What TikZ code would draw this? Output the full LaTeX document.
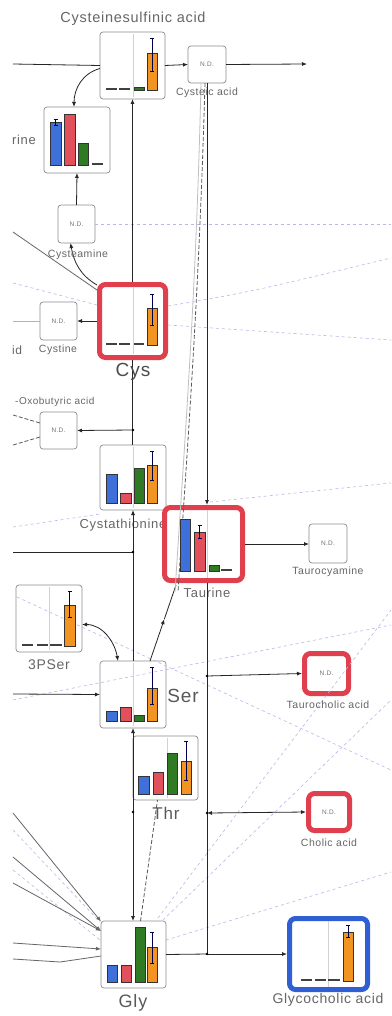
\documentclass[tikz,border=0pt]{standalone}
\usepackage{fontspec}
\setmainfont[LetterSpace=5]{Liberation Sans}
\usetikzlibrary{arrows.meta,calc}
\definecolor{cb}{HTML}{3F6FD9}
\definecolor{cr}{HTML}{E2515B}
\definecolor{cg}{HTML}{2F7A22}
\definecolor{co}{HTML}{F29422}
\definecolor{bred}{HTML}{E0404E}
\definecolor{bblue}{HTML}{2F5FD2}
\definecolor{fade}{HTML}{B8B8E8}
\newcommand{\mybar}[5]{\filldraw[fill=#5,draw=black!80,line width=0.5pt] (#1,#4) rectangle (#2,#3);}
\newcommand{\myflat}[3]{\fill[black!75] (#1,#3-1.8) rectangle (#2,#3);}
\newcommand{\myerr}[3]{\draw[black!70!blue,line width=0.6pt] (#1,#2)--(#1,#3) (#1-2,#2)--(#1+2,#2) (#1-2,#3)--(#1+2,#3);}
\newcommand{\fs}[1]{\fontsize{#1}{#1}\selectfont}
\begin{document}
\begin{tikzpicture}[x=1pt,y=-1pt,
  box/.style={draw=black!45,fill=white,rounded corners=3pt,line width=0.7pt,inner sep=0pt,outer sep=0pt},
  ndbox/.style={box,font=\fs{6.5},text=black!55},
  redbox/.style={draw=bred,fill=white,line width=5pt,rounded corners=6pt,inner sep=0pt,outer sep=2.5pt,font=\fs{6.5},text=black!55},
  conn/.style={draw=black!85,line width=0.8pt},
  arr/.style={conn,-{Latex[length=5pt,width=4pt]}},
  darr/.style={conn,{Latex[length=5pt,width=4pt]}-{Latex[length=5pt,width=4pt]}},
  gconn/.style={draw=black!60,line width=0.8pt},
  garr/.style={gconn,-{Latex[length=5pt,width=4pt]}},
  lconn/.style={draw=black!30,line width=0.8pt},
  dconn/.style={draw=black!65,line width=0.8pt,dash pattern=on 4pt off 2pt},
  fdash/.style={draw=fade,line width=0.6pt,dash pattern=on 3pt off 3pt},
  dot/.style={circle,fill=black,inner sep=0pt,minimum size=2.6pt},
  lab/.style={text=black!60,inner sep=0pt},
  divl/.style={draw=black!18,line width=0.5pt}]
\fill[white] (0,0) rectangle (391,1016);
\useasboundingbox (0,0) rectangle (391,1016);

% ---------- nodes ----------
\node[box,minimum width=65pt,minimum height=67pt] (csa) at (132.5,65.5) {};
\node[ndbox,minimum width=38pt,minimum height=37pt] (cya) at (207,64.5) {N.D.};
\node[box,minimum width=66pt,minimum height=66pt] (hyp) at (77,140) {};
\node[ndbox,minimum width=37pt,minimum height=38pt] (cym) at (76.5,224) {N.D.};
\node[redbox,minimum width=66pt,minimum height=73pt] (cys) at (132.5,321) {};
\node[ndbox,minimum width=37pt,minimum height=38pt] (cyn) at (58.5,321) {N.D.};
\node[ndbox,minimum width=37pt,minimum height=37pt] (oxo) at (58.5,430.5) {N.D.};
\node[box,minimum width=66pt,minimum height=65pt] (cth) at (133,477.5) {};
\node[lab,font=\fs{13}] (cthL) at (123,525) {Cystathionine};
\node[lab,font=\fs{13}] (tauL) at (207,593) {Taurine};
\node[redbox,minimum width=78pt,minimum height=73pt] (tau) at (203.5,544) {};
\node[ndbox,minimum width=38pt,minimum height=39pt] (tcy) at (328,543.5) {N.D.};
\node[box,minimum width=66pt,minimum height=67pt] (pser) at (49,618.5) {};
\node[box,minimum width=66pt,minimum height=67pt] (ser) at (133,694.5) {};
\node[box,minimum width=65pt,minimum height=64pt] (thr) at (165.5,768) {};
\node[box,minimum width=65pt,minimum height=67pt] (gly) at (133.5,954.5) {};
\node[redbox,minimum width=44pt,minimum height=40pt] (tca) at (326.5,673.5) {N.D.};
\node[redbox,minimum width=41pt,minimum height=37pt] (cha) at (329,812) {N.D.};
\node[redbox,draw=bblue,minimum width=78pt,minimum height=71pt] (gca) at (328.5,954) {};

% ---------- coordinates ----------
\coordinate (L1) at (13,64);
\coordinate (R1) at (307,64);
\coordinate (L2) at (13,232);
\coordinate (L3) at (13,321);
\coordinate (j1) at (133,430);
\coordinate (L4a) at (13,415);
\coordinate (L4b) at (13,445);
\coordinate (L5) at (13,552);
\coordinate (j5) at (133,552);
\coordinate (L6) at (13,694);
\coordinate (j6) at (133,812);
\coordinate (j2) at (207,676);
\coordinate (j3) at (207,813);
\coordinate (j4) at (207,954);
\coordinate (tauB) at (176,585);
\coordinate (serT) at (150,661);
\coordinate (sm) at ($(serT)!0.55!(tauB)$);
\coordinate (G1) at (13,813);
\coordinate (G2) at (13,857);
\coordinate (G3) at (13,883);
\coordinate (G4) at (13,943);
\coordinate (G5) at (13,959);
\coordinate (G5m) at (60,962);

% ---------- faint dashed lines ----------
\draw[fdash] (cym.east) -- (391,224);
\draw[fdash] (13,283) -- (97,305);
\draw[fdash] (168,306) .. controls (250,292) .. (391,258);
\draw[fdash] (168,325) -- (391,340);
\draw[fdash] (210,502) -- (391,483);
\draw[fdash] (13,527) -- (100,514);
\draw[fdash] (17,597) -- (391,770);
\draw[fdash] (13,700) -- (391,625);
\draw[fdash] (158,918) -- (391,610);
\draw[fdash] (163,920) -- (391,700);
\draw[fdash] (166,940) -- (391,872);
\draw[fdash] (13,830) -- (100,922);
\draw[fdash] (13,870) -- (100,940);

% ---------- connectors ----------
\draw[conn] (L1) -- (csa.west);
\draw[arr] (csa.east) -- (cya.west);
\draw[arr] (cya.east) -- (R1);
\draw[arr] ([yshift=-3pt]csa.west) to[out=195,in=90] ([xshift=-3pt]hyp.north);
\draw[arr] (cym.north) -- (hyp.south);
\draw[gconn] (L2) -- ([yshift=-8pt]cys.north west);
\draw[arr] ([yshift=-3pt]cys.north west) to[out=150,in=-80] ([xshift=-6pt]cym.south);
\draw[arr] (cys.west) -- (cyn.east);
\draw[lconn] (L3) -- (cyn.west);
\draw[arr] (cys.north) -- (csa.south);
\draw[conn] (cys.south) -- (cys.south |- cth.north);
\draw[arr] (j1) -- (oxo.east);
\draw[dconn] (L4a) -- ([yshift=7.5pt]oxo.west);
\draw[dconn] (L4b) -- ([yshift=-6.5pt]oxo.west);
\draw[arr] (ser.north) -- (ser.north |- cth.south);
\draw[conn] (L5) -- (j5);
\draw[arr] (L6) -- (ser.west);
\draw[darr] (ser.south) -- (ser.south |- gly.north);
\draw[arr] (cya.south) -- (cya.south |- tau.north);
\draw[conn] (j2 |- tau.south) -- (j4);
\draw[arr] (j2) -- (tca.west);
\draw[darr] (j3) -- (cha.west);
\draw[conn] (gly.east) -- (j4);
\draw[arr] (j4) -- (gca.west);
\draw[arr] (tau.east) -- (tau.east -| tcy.west);
\draw[darr] ([yshift=-6pt]pser.east) to[out=0,in=100] ([xshift=-15pt]ser.north);
\draw[arr] (serT) -- (sm);
\draw[conn] (sm) -- (tauB);
\draw[dconn] ([xshift=7pt]gly.north) -- ([xshift=-8pt]thr.south);
\draw[garr] (G1) -- ([yshift=33pt]gly.west);
\draw[garr] (G2) -- ([yshift=23.5pt]gly.west);
\draw[garr] (G3) -- ([yshift=23.5pt]gly.west);
\draw[garr] (G4) -- ([yshift=5.5pt]gly.west);
\draw[gconn] (G5) -- (G5m) -- ([yshift=-1.5pt]gly.west);
\draw[draw=black!25,line width=0.8pt] ([xshift=-6pt]cya.south) .. controls (196,300) and (184,450) .. (175,592);
\draw[dconn] ([xshift=-2pt]cya.south) .. controls (199,300) and (187,450) .. (178,592);
\foreach \j in {j1,j5,j6,j2,j3,j4} \node[dot] at (\j) {};

% ---------- charts ----------
% Cysteinesulfinic acid
\draw[divl] (133,34) -- (133,97);
\myflat{106}{117}{90}\myflat{119}{130}{90}
\mybar{134}{144}{87}{90}{cg}\mybar{147}{157}{53}{90}{co}\myerr{152}{38}{71}
% Hypotaurine
\mybar{50}{61}{122}{165}{cb}\myerr{55.5}{119}{125}
\mybar{64}{75}{114}{165}{cr}
\mybar{78}{88}{143}{165}{cg}
\myflat{92}{103}{165}
% Cys
\draw[divl] (133,287) -- (133,354);
\myflat{106}{117}{345}\myflat{119}{130}{345}\myflat{134}{144}{345}
\mybar{147}{157}{308}{345}{co}\myerr{152}{294}{325}
% Cystathionine
\draw[divl] (133,447) -- (133,508);
\mybar{106}{117}{474}{503}{cb}\mybar{120}{131}{493}{503}{cr}
\mybar{134}{144}{468}{503}{cg}\mybar{147}{157}{465}{503}{co}\myerr{152}{451}{480}
% Taurine
\draw[divl] (207,510) -- (207,578);
\mybar{180}{190}{519}{571}{cb}\mybar{194}{205}{532}{571}{cr}\myerr{199.5}{525}{538}
\mybar{209}{219}{565}{571}{cg}\myflat{221}{232}{571}
% 3PSer
\draw[divl] (49,587) -- (49,650);
\fill[black!75] (22,646) rectangle (33,643.5);
\myflat{37}{48}{646}\myflat{50}{62}{646}
\mybar{64}{75}{605}{646}{co}\myerr{69.5}{591}{617}
% Ser
\draw[divl] (133,663) -- (133,726);
\mybar{106}{117}{711}{721}{cb}\mybar{120}{131}{707}{721}{cr}
\mybar{134}{144}{715}{721}{cg}\mybar{147}{157}{688}{721}{co}\myerr{152}{667}{704}
% Thr
\draw[divl] (167,738) -- (167,798);
\mybar{138}{149}{776}{794}{cb}\mybar{153}{163}{772}{794}{cr}
\mybar{167}{177}{753}{794}{cg}\mybar{181}{191}{761}{794}{co}\myerr{186}{741}{780}
% Gly
\mybar{107}{117}{965}{982}{cb}\mybar{121}{131}{965}{982}{cr}
\mybar{135}{145}{927}{982}{cg}\mybar{147}{157}{947}{982}{co}\myerr{152}{932}{963}
% Glycocholic acid
\draw[divl] (328,921) -- (328,987);
\myflat{301}{312}{981}\myflat{315}{326}{981}\myflat{328}{340}{981}
\mybar{343}{353}{932}{981}{co}\myerr{348}{925}{937}

% ---------- labels ----------
\node[lab,font=\fs{14.5}] (csaL) at (133,19) {Cysteinesulfinic acid};
\node[lab,font=\fs{10.5}] (cyaL) at (207,93) {Cysteic acid};
\node[lab,font=\fs{13},anchor=west] (hypL) at (12,140) {rine};
\node[lab,font=\fs{10.5}] (cymL) at (78,255) {Cysteamine};
\node[lab,font=\fs{19},text=black!70] (cysL) at (133,372) {Cys};
\node[lab,font=\fs{10.5}] (cynL) at (58,350) {Cystine};
\node[lab,font=\fs{12},anchor=west] (idL) at (12,350) {id};
\node[lab,font=\fs{10},anchor=west] (oxoL) at (15,402) {-Oxobutyric acid};
\node[lab,font=\fs{10.5}] (tcyL) at (328,572) {Taurocyamine};
\node[lab,font=\fs{14}] (pserL) at (49,665) {3PSer};
\node[lab,font=\fs{19},text=black!65] (serL) at (183,696) {Ser};
\node[lab,font=\fs{17},text=black!65] (thrL) at (166,813) {Thr};
\node[lab,font=\fs{18},text=black!65] (glyL) at (133,1003) {Gly};
\node[lab,font=\fs{10.5}] (tcaL) at (328,705) {Taurocholic acid};
\node[lab,font=\fs{10.5}] (chaL) at (329,843) {Cholic acid};
\node[lab,font=\fs{14}] (gcaL) at (328,1000) {Glycocholic acid};
\end{tikzpicture}
\end{document}
